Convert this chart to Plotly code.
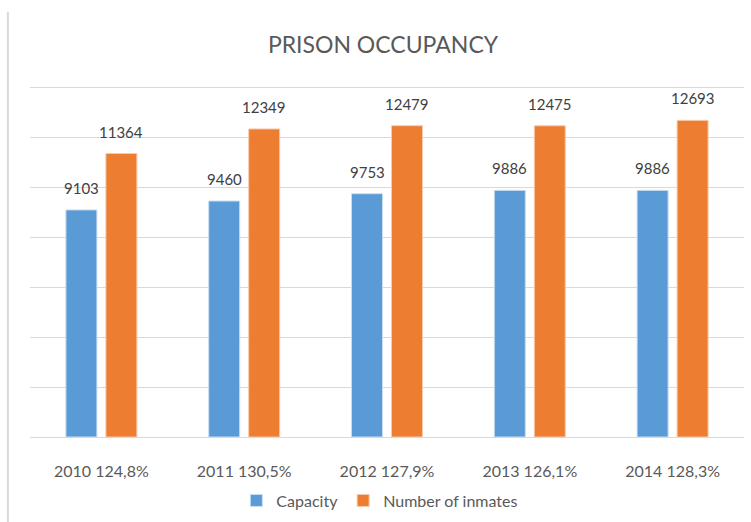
import plotly.graph_objects as go

years = ["2010", "2011", "2012", "2013", "2014"]
occupancy = ["124,8%", "130,5%", "127,9%", "126,1%", "128,3%"]
capacity = [9103, 9460, 9753, 9886, 9886]
inmates = [11364, 12349, 12479, 12475, 12693]

categories = [f"{y} {p}" for y, p in zip(years, occupancy)]

BLUE = "#5B9BD5"
ORANGE = "#ED7D31"
FONT = "Lato"

fig = go.Figure()
fig.add_trace(go.Bar(name="Capacity", x=categories, y=capacity,
                     marker=dict(color=BLUE, line=dict(color="#C9DDF1", width=1))))
fig.add_trace(go.Bar(name="Number of inmates", x=categories, y=inmates,
                     marker=dict(color=ORANGE, line=dict(color="#F8CBAD", width=1))))

annotations = []
for cat, c, n in zip(categories, capacity, inmates):
    annotations.append(dict(x=cat, y=c, xref="x", yref="y", text=str(c), showarrow=False,
                            xshift=-20, yshift=11, yanchor="bottom",
                            font=dict(family=FONT, size=15, color="#404040")))
    annotations.append(dict(x=cat, y=n, xref="x", yref="y", text=str(n), showarrow=False,
                            xshift=20, yshift=11, yanchor="bottom",
                            font=dict(family=FONT, size=15, color="#404040")))

fig.update_layout(
    width=751, height=522,
    margin=dict(l=30, r=7, t=84, b=85, autoexpand=False),
    paper_bgcolor="white", plot_bgcolor="white",
    font=dict(family=FONT, color="#595959"),
    title=dict(text="PRISON OCCUPANCY", x=0.51, xanchor="center", y=0.914, yanchor="middle",
               font=dict(family=FONT, size=23, color="#595959")),
    barmode="group", bargap=0.44, bargroupgap=0.225,
    showlegend=True,
    legend=dict(orientation="h", x=0.49, xanchor="center", y=-0.18, yanchor="middle",
                font=dict(family=FONT, size=16, color="#595959"), traceorder="normal",
                itemwidth=30),
    annotations=annotations,
    shapes=[dict(type="line", xref="paper", yref="paper", x0=-0.031, x1=-0.031, y0=-0.3, y1=1.205,
                 line=dict(color="#D9D9D9", width=2))],
)
fig.update_xaxes(showgrid=False, showline=True, linecolor="#D9D9D9", linewidth=1,
                 ticks="outside", ticklen=20, tickcolor="rgba(0,0,0,0)",
                 tickfont=dict(family=FONT, size=16, color="#595959"))
fig.update_yaxes(range=[0, 14150], dtick=2000, showgrid=True, gridcolor="#D9D9D9", gridwidth=1,
                 showticklabels=False, zeroline=False, showline=False)

fig.write_html("out.html", config={"displayModeBar": False},
               post_script="document.body.style.margin='0';")
